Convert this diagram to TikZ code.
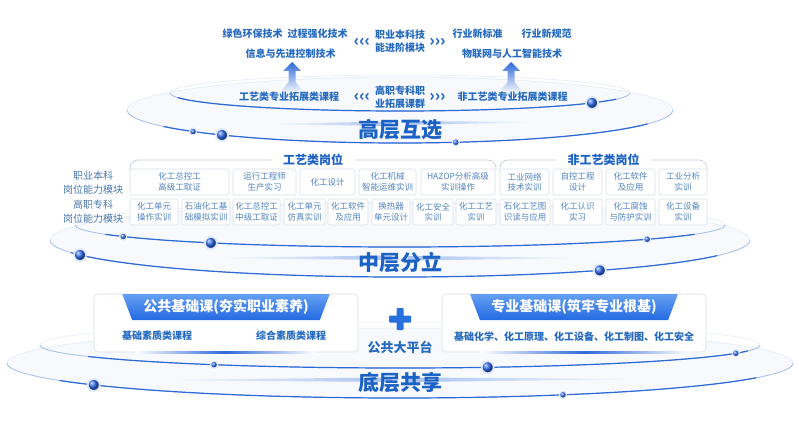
\documentclass[tikz,border=0pt]{standalone}
\usepackage{fontspec}
\setmainfont{Noto Sans CJK SC}
\usetikzlibrary{shapes.geometric,calc}

\definecolor{titleblue}{RGB}{28,98,196}
\definecolor{txtblue}{RGB}{38,106,192}
\definecolor{cardtxt}{RGB}{82,132,192}
\definecolor{cardline}{RGB}{218,224,233}
\definecolor{bracketgrey}{RGB}{192,202,218}
\definecolor{ringblue}{RGB}{45,105,215}
\definecolor{dotblue}{RGB}{40,100,228}
\definecolor{bannerlight}{RGB}{100,160,242}
\definecolor{bannerdark}{RGB}{36,106,226}
\definecolor{plusblue}{RGB}{40,112,222}

\tikzset{
  haze/.style={fill=ringblue!4},
  ringback/.style={draw=ringblue!15, line width=0.5pt},
  ringfront/.style={draw=ringblue!45, line width=0.7pt},
  ringcore/.style={draw=ringblue, line width=1.2pt},
  bigdot/.style={circle, minimum size=12pt, inner sep=0pt, ball color=dotblue, draw=dotblue!15, line width=1.8pt},
  smalldot/.style={circle, minimum size=7pt, inner sep=0pt, ball color=dotblue, draw=dotblue!15, line width=1.2pt},
  toptext/.style={text=txtblue, font=\bfseries\fontsize{10}{13}\selectfont, align=center, inner sep=1pt},
  chevron/.style={text=txtblue, font=\bfseries\fontsize{16}{16}\selectfont, inner sep=0pt},
  layertitle/.style={text=titleblue, font=\bfseries\fontsize{21}{24}\selectfont},
  sectitle/.style={text=titleblue, font=\bfseries\fontsize{12}{14}\selectfont, inner xsep=12pt},
  bracketline/.style={draw=bracketgrey, line width=0.6pt, rounded corners=8pt},
  sidelabel/.style={text=cardtxt!90!black, font=\fontsize{10}{14}\selectfont, align=center},
  card/.style={draw=cardline, fill=white, rounded corners=2pt, line width=0.6pt, minimum height=26pt, inner sep=1pt, align=center, text=cardtxt, font=\fontsize{8.5}{10.5}\selectfont},
  basebox/.style={draw=cardline, fill=white, rounded corners=4pt, line width=0.6pt, minimum width=264pt, minimum height=58pt},
  banner/.style={trapezium, shape border rotate=180, trapezium stretches=true, trapezium left angle=60, trapezium right angle=60, minimum width=208pt, minimum height=26pt, top color=bannerlight, bottom color=bannerdark, text=white, font=\bfseries\fontsize{14}{16}\selectfont, inner sep=0pt},
  subtext/.style={text=txtblue, font=\bfseries\fontsize{10}{12}\selectfont},
  platform/.style={text=txtblue, font=\bfseries\fontsize{13}{15}\selectfont},
  upfade/.style={top color=ringblue, bottom color=white},
  streakL/.style={left color=white, right color=ringblue!40},
  streakR/.style={left color=ringblue!40, right color=white},
  baseglow/.style={left color=white, right color=white, middle color=ringblue},
}

\begin{document}
\begin{tikzpicture}[x=1pt,y=1pt,yscale=-1]
\fill[white] (0,0) rectangle (799,435);
\useasboundingbox (0,0) rectangle (799,435);

%ring centres
\coordinate (tIn) at (400,93);
\coordinate (tOut) at (400,110);
\coordinate (mIn) at (400,225);
\coordinate (mOut) at (400,240);
\coordinate (bIn) at (400,345);
\coordinate (bOut) at (400,363);

%haze and back of the rings
\fill[haze] (tOut) ellipse [x radius=273, y radius=33];
\fill[haze] (mOut) ellipse [x radius=350, y radius=37];
\fill[haze] (bOut) ellipse [x radius=393, y radius=35];
\draw[ringback] (tIn) ellipse [x radius=230, y radius=18];
\draw[ringback] (tOut) ellipse [x radius=273, y radius=33];
\draw[ringback] (mIn) ellipse [x radius=325, y radius=22];
\draw[ringback] (mOut) ellipse [x radius=350, y radius=37];
\draw[ringback] (bIn) ellipse [x radius=360, y radius=23];
\draw[ringback] (bOut) ellipse [x radius=393, y radius=35];

%top layer texts
\node[toptext] (gtA) at (285,34) {绿色环保技术\hspace{5pt}过程强化技术};
\node[toptext] (gtB) at (290.5,53.5) {信息与先进控制技术};
\node[toptext] (bkMod) at (400,41.5) {职业本科技\\能进阶模块};
\node[chevron] (chL1) at (362,42) {‹‹‹};
\node[chevron] (chR1) at (437.5,42) {›››};
\node[toptext] (hyA) at (477.5,34) {行业新标准};
\node[toptext] (hyB) at (546.5,34) {行业新规范};
\node[toptext] (hyC) at (512,53.5) {物联网与人工智能技术};

%up arrows
\shade[upfade] (292,62) -- (301,71) -- (295.5,71) -- (295.5,82) -- (305,94) -- (279,94) -- (288.5,82) -- (288.5,71) -- (283,71) -- cycle;
\shade[upfade] (511,62) -- (520,71) -- (514.5,71) -- (514.5,82) -- (524,94) -- (498,94) -- (507.5,82) -- (507.5,71) -- (502,71) -- cycle;

\node[toptext] (kcL) at (289,97) {工艺类专业拓展类课程};
\node[toptext] (zkMod) at (400,97) {高职专科职\\业拓展课群};
\node[chevron] (chL2) at (362,97) {‹‹‹};
\node[chevron] (chR2) at (437.5,97) {›››};
\node[toptext] (kcR) at (512.5,97) {非工艺类专业拓展类课程};

%middle layer: brackets and posts
\node[sectitle] (gyTitle) at (313,160) {工艺类岗位};
\node[sectitle] (fgTitle) at (603.5,160) {非工艺类岗位};
\coordinate (gyL) at (130,170);
\coordinate (gyR) at (496,170);
\coordinate (fgL) at (500,170);
\coordinate (fgR) at (707,170);
\draw[bracketline] (gyL) |- (gyTitle.west);
\draw[bracketline] (gyR) |- (gyTitle.east);
\draw[bracketline] (fgL) |- (fgTitle.west);
\draw[bracketline] (fgR) |- (fgTitle.east);

\node[sidelabel] (bkLab) at (93,183) {职业本科\\岗位能力模块};
\node[sidelabel] (zkLab) at (93,212) {高职专科\\岗位能力模块};

\node[card, minimum width=99pt] (bk1) at (179.5,182) {化工总控工\\高级工取证};
\node[card, minimum width=63pt] (bk2) at (264.5,182) {运行工程师\\生产实习};
\node[card, minimum width=55pt] (bk3) at (327.5,182) {化工设计};
\node[card, minimum width=57pt] (bk4) at (387.5,182) {化工机械\\智能运维实训};
\node[card, minimum width=74pt] (bk5) at (458,182) {HAZOP分析高级\\实训操作};
\node[card, minimum width=49pt] (bk6) at (524.5,182) {工业网络\\技术实训};
\node[card, minimum width=49pt] (bk7) at (577.5,182) {自控工程\\设计};
\node[card, minimum width=49pt] (bk8) at (630.5,182) {化工软件\\及应用};
\node[card, minimum width=48pt] (bk9) at (683,182) {工业分析\\实训};

\node[card, minimum width=48pt] (zk1) at (154,212) {化工单元\\操作实训};
\node[card, minimum width=48pt] (zk2) at (206,212) {石油化工基\\础模拟实训};
\node[card, minimum width=47pt] (zk3) at (256.5,212) {化工总控工\\中级工取证};
\node[card, minimum width=41pt] (zk4) at (304.5,212) {化工单元\\仿真实训};
\node[card, minimum width=40pt] (zk5) at (348,212) {化工软件\\及应用};
\node[card, minimum width=38pt] (zk6) at (391,212) {换热器\\单元设计};
\node[card, minimum width=40pt] (zk7) at (433,212) {化工安全\\实训};
\node[card, minimum width=40pt] (zk8) at (476,212) {化工工艺\\实训};
\node[card, minimum width=50pt] (zk9) at (525,212) {石化工艺图\\识读与应用};
\node[card, minimum width=49pt] (zk10) at (577.5,212) {化工认识\\实习};
\node[card, minimum width=49pt] (zk11) at (630.5,212) {化工腐蚀\\与防护实训};
\node[card, minimum width=48pt] (zk12) at (683,212) {化工设备\\实训};

%bottom layer: two boxes and the plus
\node[basebox] (ggBox) at (226,323) {};
\node[basebox] (zyBox) at (574,323) {};
\shade[baseglow] (135,351) rectangle (315,353.5);
\shade[baseglow] (480,351) rectangle (690,353.5);
\node[banner] (ggBan) at (226,307) {公共基础课(夯实职业素养)};
\node[banner] (zyBan) at (574,307) {专业基础课(筑牢专业根基)};
\node[subtext] (ggA) at (157,336) {基础素质类课程};
\node[subtext] (ggB) at (291,336) {综合素质类课程};
\node[subtext] (zyA) at (574,337) {基础化学、化工原理、化工设备、化工制图、化工安全};
\fill[plusblue, rounded corners=1pt] (396.5,308) rectangle (403.5,330);
\fill[plusblue, rounded corners=1pt] (389,315.5) rectangle (411,322.5);
\node[platform] (ptf) at (400,347) {公共大平台};

%front of the rings
\draw[ringfront] ($(tIn)+(0:230 and 18)$) arc[start angle=0, end angle=180, x radius=230, y radius=18];
\draw[ringcore] ($(tIn)+(20:230 and 18)$) arc[start angle=20, end angle=165, x radius=230, y radius=18];
\draw[ringfront] ($(tOut)+(0:273 and 33)$) arc[start angle=0, end angle=180, x radius=273, y radius=33];
\draw[ringcore] ($(tOut)+(25:273 and 33)$) arc[start angle=25, end angle=150, x radius=273, y radius=33];
\draw[ringfront] ($(mIn)+(0:325 and 22)$) arc[start angle=0, end angle=180, x radius=325, y radius=22];
\draw[ringcore] ($(mIn)+(25:325 and 22)$) arc[start angle=25, end angle=155, x radius=325, y radius=22];
\draw[ringfront] ($(mOut)+(0:350 and 37)$) arc[start angle=0, end angle=180, x radius=350, y radius=37];
\draw[ringcore] ($(mOut)+(25:350 and 37)$) arc[start angle=25, end angle=160, x radius=350, y radius=37];
\draw[ringfront] ($(bIn)+(0:360 and 23)$) arc[start angle=0, end angle=180, x radius=360, y radius=23];
\draw[ringcore] ($(bIn)+(15:360 and 23)$) arc[start angle=15, end angle=150, x radius=360, y radius=23];
\draw[ringfront] ($(bOut)+(0:393 and 35)$) arc[start angle=0, end angle=180, x radius=393, y radius=35];
\draw[ringcore] ($(bOut)+(25:393 and 35)$) arc[start angle=25, end angle=150, x radius=393, y radius=35];

%title streaks
\shade[streakL] (255,124) -- (392,121.5) -- (392,126) -- cycle;
\shade[streakR] (408,121) -- (408,125) -- (547,122) -- cycle;
\shade[streakL] (200,258) -- (392,255.5) -- (392,260) -- cycle;
\shade[streakR] (408,256) -- (408,260.5) -- (597,258) -- cycle;
\shade[streakL] (133,380) -- (392,377.5) -- (392,382) -- cycle;
\shade[streakR] (408,377.5) -- (408,382) -- (667,379) -- cycle;

%dots on the rings
\node[smalldot] (dt1) at ($(tOut)+(139.3:273 and 33)$) {};
\node[bigdot] (dt2) at ($(tOut)+(130.7:273 and 33)$) {};
\node[bigdot] (dt3) at ($(tIn)+(33.4:230 and 18)$) {};
\node[smalldot] (dt4) at ($(tOut)+(78.2:273 and 33)$) {};
\node[smalldot] (dm1) at ($(mIn)+(148.4:325 and 22)$) {};
\node[bigdot] (dm2) at ($(mIn)+(125.6:325 and 22)$) {};
\node[smalldot] (dm3) at ($(mIn)+(40.5:325 and 22)$) {};
\node[bigdot] (dm4) at ($(mOut)+(156.1:350 and 37)$) {};
\node[bigdot] (dm5) at ($(mOut)+(55.2:350 and 37)$) {};
\node[smalldot] (db1) at ($(bIn)+(121.1:360 and 23)$) {};
\node[bigdot] (db2) at ($(bIn)+(75.9:360 and 23)$) {};
\node[smalldot] (db3) at ($(bIn)+(21.1:360 and 23)$) {};
\node[bigdot] (db4) at ($(bOut)+(141.2:393 and 35)$) {};
\node[smalldot] (db5) at ($(bOut)+(65.5:393 and 35)$) {};

%layer titles
\node[layertitle] (topLayer) at (400,130) {高层互选};
\node[layertitle] (midLayer) at (400,262) {中层分立};
\node[layertitle] (baseLayer) at (400,383) {底层共享};
\end{tikzpicture}
\end{document}
